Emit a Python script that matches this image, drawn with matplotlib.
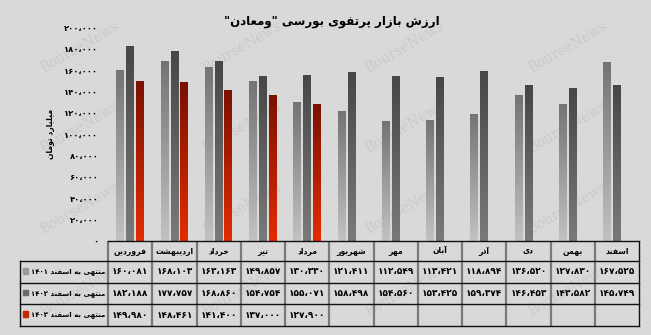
import re
import numpy as np
import matplotlib
matplotlib.use("Agg")
import matplotlib.pyplot as plt
from matplotlib.colors import LinearSegmentedColormap

months = ["فروردین", "اردیبهشت", "خرداد", "تیر", "مرداد", "شهریور",
          "مهر", "آبان", "آذر", "دی", "بهمن", "اسفند"]
s1401 = [160081, 168103, 163163, 149857, 130330, 121411,
         112549, 113421, 118894, 136520, 127830, 167525]
s1402 = [182188, 177757, 168860, 154754, 155071, 158498,
         154560, 153425, 159374, 146453, 143582, 145749]
s1403 = [149980, 148461, 141400, 137000, 127900]
series_names = ["منتهی به اسفند ۱۴۰۱", "منتهی به اسفند ۱۴۰۲", "منتهی به اسفند ۱۴۰۳"]
title = 'ارزش بازار پرتفوی بورسی "ومعادن"'
ylabel = "میلیارد تومان"
yticks = list(range(0, 200001, 20000))

# arabic presentation forms: isolated, final, initial, medial
FORMS = {
    'ا': ('\uFE8D', '\uFE8E', None, None), 'آ': ('\uFE81', '\uFE82', None, None),
    'ب': ('\uFE8F', '\uFE90', '\uFE91', '\uFE92'), 'پ': ('\uFB56', '\uFB57', '\uFB58', '\uFB59'),
    'ت': ('\uFE95', '\uFE96', '\uFE97', '\uFE98'), 'خ': ('\uFEA5', '\uFEA6', '\uFEA7', '\uFEA8'),
    'د': ('\uFEA9', '\uFEAA', None, None), 'ذ': ('\uFEAB', '\uFEAC', None, None),
    'ر': ('\uFEAD', '\uFEAE', None, None), 'ز': ('\uFEAF', '\uFEB0', None, None),
    'س': ('\uFEB1', '\uFEB2', '\uFEB3', '\uFEB4'), 'ش': ('\uFEB5', '\uFEB6', '\uFEB7', '\uFEB8'),
    'ع': ('\uFEC9', '\uFECA', '\uFECB', '\uFECC'), 'ف': ('\uFED1', '\uFED2', '\uFED3', '\uFED4'),
    'ل': ('\uFEDD', '\uFEDE', '\uFEDF', '\uFEE0'), 'م': ('\uFEE1', '\uFEE2', '\uFEE3', '\uFEE4'),
    'ن': ('\uFEE5', '\uFEE6', '\uFEE7', '\uFEE8'), 'ه': ('\uFEE9', '\uFEEA', '\uFEEB', '\uFEEC'),
    'و': ('\uFEED', '\uFEEE', None, None), 'ی': ('\uFBFC', '\uFBFD', '\uFBFE', '\uFBFF'),
}
NUM = '[۰-۹0-9،]+'


def rtl(s):
    out = []
    for i, c in enumerate(s):
        if c not in FORMS:
            out.append(c)
            continue
        f = FORMS[c]
        prev = s[i - 1] if i > 0 else ''
        nxt = s[i + 1] if i + 1 < len(s) else ''
        jp = prev in FORMS and FORMS[prev][2] is not None
        jn = f[2] is not None and nxt in FORMS
        out.append(f[3] if jp and jn else f[1] if jp else f[2] if jn else f[0])
    parts = re.findall(NUM + '|[^۰-۹0-9،]+', ''.join(out))
    return ''.join(p if re.fullmatch(NUM, p) else p[::-1] for p in reversed(parts))


def fa(v):
    return f"{v:,}".replace(',', '،').translate(str.maketrans('0123456789', '۰۱۲۳۴۵۶۷۸۹'))


BG = '#d9d9d9'
W, H = 651, 335
AX_L, AX_R, Y0, Y1 = 108, 639, 240.6, 27.6
plt.rcParams['font.family'] = ['DejaVu Sans']

fig = plt.figure(figsize=(W / 100, H / 100), dpi=100, facecolor=BG)

for yy in [47, 127, 208, 290]:
    for xx in [80, 242, 405, 568]:
        fig.text(xx / W, 1 - yy / H, "BourseNews", family='DejaVu Serif', fontsize=10,
                 color='#cacaca', rotation=30, ha='center', va='center', zorder=-1)

ax = fig.add_axes([AX_L / W, 1 - Y0 / H, (AX_R - AX_L) / W, (Y0 - Y1) / H])
ax.set_facecolor('none')

grads = [('#c2c2c2', '#747474'), ('#7a7a7a', '#474747'), ('#e42c00', '#7a1100')]
offsets = [-0.225, 0.0, 0.215]
bw = 0.17
grad = np.linspace(0, 1, 256).reshape(-1, 1)
for vals, (c0, c1), off in zip([s1401, s1402, s1403], grads, offsets):
    cmap = LinearSegmentedColormap.from_list('g', [c0, c1])
    for i, v in enumerate(vals):
        x = i + off
        ax.imshow(grad, extent=[x - bw / 2, x + bw / 2, 0, v], origin='lower',
                  cmap=cmap, aspect='auto', zorder=2, interpolation='bilinear')

ax.set_xlim(-0.5, len(months) - 0.5)
ax.set_ylim(0, 200000)
ax.set_xticks([])
ax.set_yticks(yticks)
ax.set_yticklabels([fa(t) for t in yticks], fontsize=6, fontweight='bold')
ax.tick_params(axis='y', length=0, pad=7)
for sp in ax.spines.values():
    sp.set_visible(False)
ax.set_ylabel(rtl(ylabel), fontsize=5.5, fontweight='bold', labelpad=7)

fig.text(332 / W, 1 - 21 / H, rtl(title), ha='center', va='center',
         fontsize=8.5, fontweight='bold')

# data table under the bars
tx = fig.add_axes([0, 0, 1, 1])
tx.set_facecolor('none')
tx.set_xlim(0, W)
tx.set_ylim(H, 0)
tx.axis('off')
colw = (AX_R - AX_L) / len(months)
rows = [241, 261, 283, 304, 326]
LBL_L = 19.5
for i in range(len(months) + 1):
    x = AX_L + i * colw
    edge = i == len(months)
    tx.plot([x, x], [rows[0], rows[-1]], color='#111111' if edge else '#7a7a7a',
            lw=1 if edge else 1.6, solid_capstyle='butt')
tx.plot([LBL_L, LBL_L], [rows[1], rows[-1]], color='#111111', lw=1)
tx.plot([AX_L, AX_R], [rows[0], rows[0]], color='#111111', lw=1)
for y in rows[1:]:
    tx.plot([LBL_L, AX_R], [y, y], color='#111111', lw=1)

for i, m in enumerate(months):
    tx.text(AX_L + (i + 0.5) * colw, (rows[0] + rows[1]) / 2, rtl(m), ha='center',
            va='center', fontsize=5.5, fontweight='bold')

key_cols = ['#9a9a9a', '#6a6a6a', '#c82800']
for r, (name, vals, kc) in enumerate(zip(series_names, [s1401, s1402, s1403], key_cols)):
    yc = (rows[r + 1] + rows[r + 2]) / 2
    tx.add_patch(plt.Rectangle((22.5, yc - 4), 5.5, 5.5, color=kc))
    tx.text(105, yc, rtl(name), ha='right', va='center', fontsize=5, fontweight='bold')
    for i, v in enumerate(vals):
        tx.text(AX_L + (i + 0.5) * colw, yc, fa(v), ha='center', va='center',
                fontsize=6.5, fontweight='bold')

fig.savefig('out.png', dpi=100, facecolor=BG)
